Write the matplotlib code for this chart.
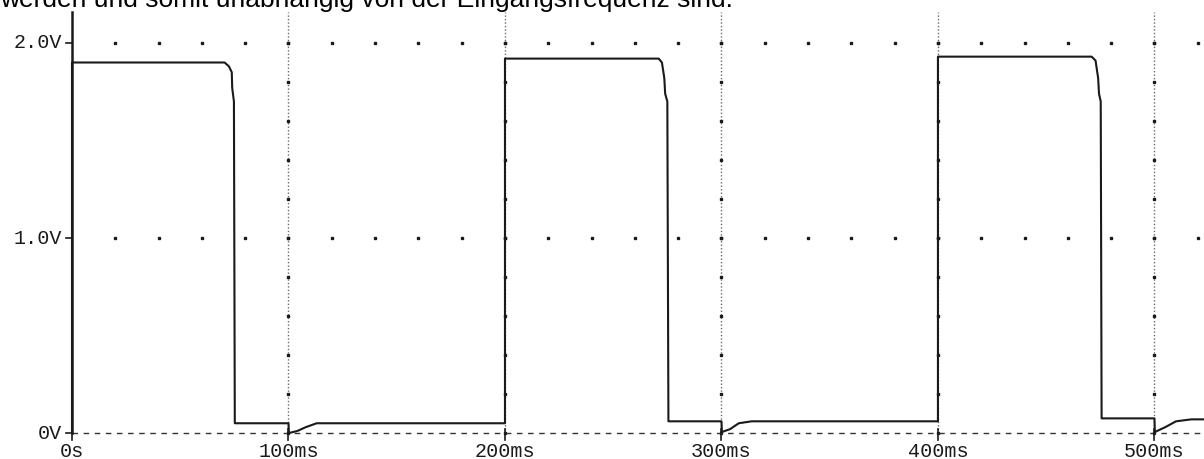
import numpy as np
import matplotlib.pyplot as plt

# scanned transient plot: one trace, voltage over time
caption = "werden und somit unabhängig von der Eingangsfrequenz sind."

t_ms = [0, 0, 70.5, 72.5, 73.8, 74.0, 74.8, 75.2, 100, 100.2, 104, 108, 113, 200,
        200, 271.0, 272.5, 273.6, 274.0, 275.0, 275.5, 300, 300.2, 304, 308, 314, 400,
        400, 471.0, 472.8, 474.0, 474.4, 475.2, 475.6, 500, 500.2, 505, 510, 517, 523]
volts = [0, 1.90, 1.90, 1.88, 1.85, 1.77, 1.70, 0.05, 0.05, 0.0, 0.01, 0.03, 0.05, 0.05,
         1.92, 1.92, 1.90, 1.82, 1.74, 1.70, 0.06, 0.06, 0.005, 0.02, 0.05, 0.06, 0.06,
         1.93, 1.93, 1.91, 1.82, 1.74, 1.70, 0.075, 0.075, 0.005, 0.03, 0.06, 0.07, 0.07]

x_ticks = [0, 100, 200, 300, 400, 500]
x_labels = ["0s", "100ms", "200ms", "300ms", "400ms", "500ms"]
y_ticks = [0, 1.0, 2.0]
y_labels = ["0V", "1.0V", "2.0V"]

fig = plt.figure(figsize=(12.04, 4.59), dpi=100)
ax = fig.add_axes([0, 0, 1, 1])
ax.set_xlim(-33.26, 522.9)
ax.set_ylim(-0.1333, 2.2205)
ax.axis('off')

mono = "Liberation Mono"
ink = "#1a1a1a"

# vertical grid lines (dotted) with dots every 0.2V
for t in x_ticks[1:]:
    ax.plot([t, t], [0, 2.16], color="#6a6a6a", lw=1.0, ls=(0, (1, 1.5)))
    ax.plot([t] * 11, np.arange(0, 2.01, 0.2), ls="none", marker="s", ms=2, color=ink)

# horizontal dot rows at 1.0V and 2.0V, every 20ms
dots_t = np.arange(20, 523, 20)
for v in y_ticks[1:]:
    ax.plot(dots_t, [v] * len(dots_t), ls="none", marker="s", ms=2, color=ink)

# 0V dashed line
ax.plot([0, 523], [0, 0], color="#333333", lw=1.0, ls=(0, (4, 4)))

# left axis
ax.plot([0, 0], [0, 2.16], color=ink, lw=1.8)

# tick marks
for t in x_ticks:
    ax.plot([t, t], [-0.035, 0.02], color=ink, lw=1.2)
for v in y_ticks:
    ax.plot([-2.8, 0], [v, v], color=ink, lw=1.2)

# trace
ax.plot(t_ms, volts, color=ink, lw=1.5)

# tick labels
for t, lab in zip(x_ticks, x_labels):
    ax.text(t, -0.094, lab, family=mono, fontsize=14.5, ha="center", va="center", color=ink)
for v, lab in zip(y_ticks, y_labels):
    ax.text(-4.5, v, lab, family=mono, fontsize=14.5, ha="right", va="center", color=ink)

# caption cut off at the top of the scan
fig.text(0.0, 1 - 7 / 459, caption, family="Liberation Sans", fontsize=19,
         ha="left", va="baseline", color="black")

fig.savefig("out.png", dpi=100)
